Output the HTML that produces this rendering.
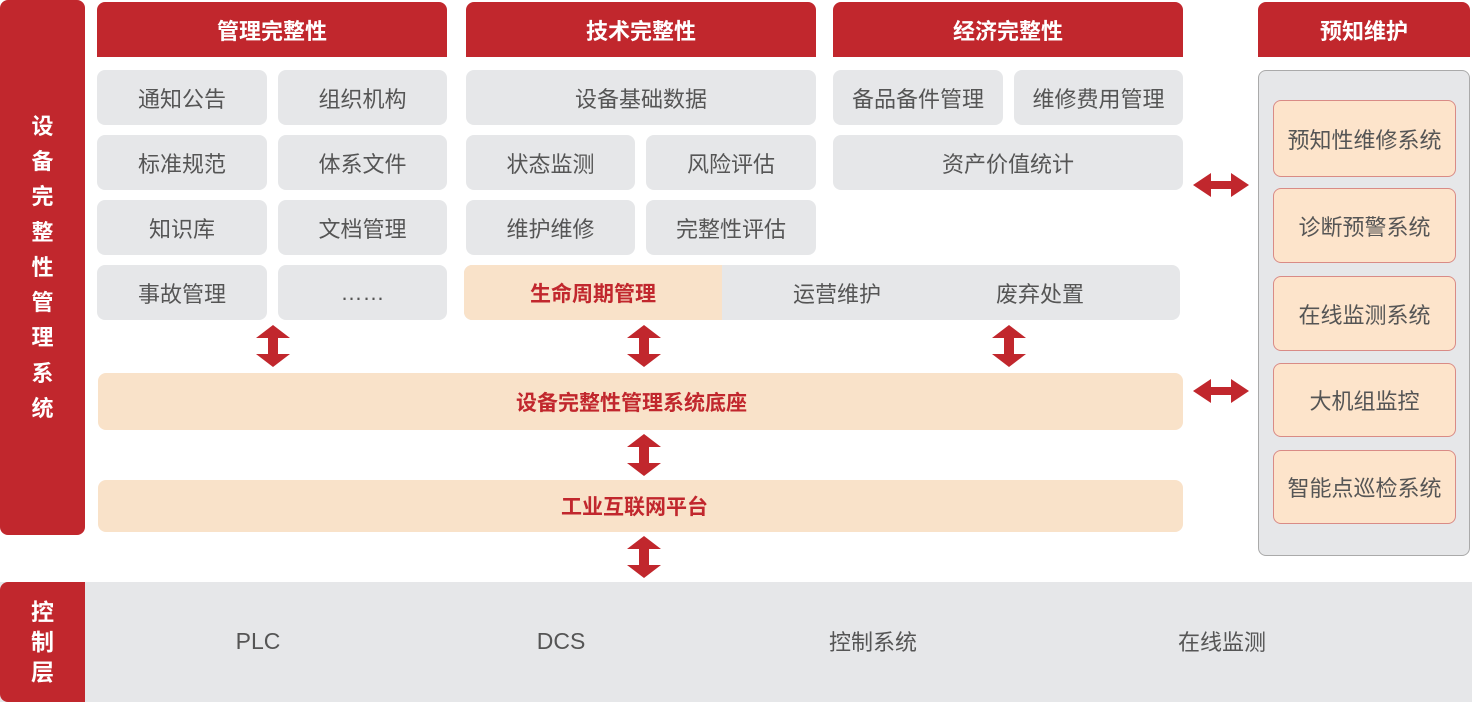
<!DOCTYPE html>
<html><head><meta charset="utf-8"><style>
*{margin:0;padding:0;box-sizing:border-box}
body{width:1472px;height:704px;background:#fff;position:relative;overflow:hidden;font-family:"Liberation Sans","Noto Sans CJK SC",sans-serif}
.a{position:absolute;display:flex;align-items:center;justify-content:center}
.h{background:#c1272d;color:#fff;font-size:22px;font-weight:bold;border-radius:8px 8px 0 0;top:2px;height:55px}
.g{background:#e6e7e9;color:#555;font-size:22px;border-radius:8px}
.p{background:#f9e2c9;color:#c1272d;font-size:21px;font-weight:bold;border-radius:8px}
.r{background:#fde4cb;border:1px solid #d98b86;color:#555;font-size:22px;border-radius:8px;left:1273px;width:183px}
</style></head><body>
<div class="a" style="left:0;top:0;width:85px;height:535px;background:#c1272d;border-radius:8px;color:#fff;font-size:22px;font-weight:bold;flex-direction:column;line-height:35.3px">设<br>备<br>完<br>整<br>性<br>管<br>理<br>系<br>统</div>

<div class="a h" style="left:97px;width:350px">管理完整性</div>
<div class="a h" style="left:466px;width:350px">技术完整性</div>
<div class="a h" style="left:833px;width:350px">经济完整性</div>
<div class="a h" style="left:1258px;width:212px">预知维护</div>

<div class="a g" style="left:97px;top:70px;width:170px;height:55px">通知公告</div>
<div class="a g" style="left:278px;top:70px;width:169px;height:55px">组织机构</div>
<div class="a g" style="left:97px;top:135px;width:170px;height:55px">标准规范</div>
<div class="a g" style="left:278px;top:135px;width:169px;height:55px">体系文件</div>
<div class="a g" style="left:97px;top:200px;width:170px;height:55px">知识库</div>
<div class="a g" style="left:278px;top:200px;width:169px;height:55px">文档管理</div>
<div class="a g" style="left:97px;top:265px;width:170px;height:55px">事故管理</div>
<div class="a g" style="left:278px;top:265px;width:169px;height:55px">……</div>

<div class="a g" style="left:466px;top:70px;width:350px;height:55px">设备基础数据</div>
<div class="a g" style="left:466px;top:135px;width:169px;height:55px">状态监测</div>
<div class="a g" style="left:646px;top:135px;width:170px;height:55px">风险评估</div>
<div class="a g" style="left:466px;top:200px;width:169px;height:55px">维护维修</div>
<div class="a g" style="left:646px;top:200px;width:170px;height:55px">完整性评估</div>
<div class="a g" style="left:464px;top:265px;width:716px;height:55px"></div>
<div class="a p" style="left:464px;top:265px;width:258px;height:55px;border-radius:8px 0 0 8px">生命周期管理</div>
<div class="a" style="left:722px;top:265px;width:230px;height:55px;color:#555;font-size:22px">运营维护</div>
<div class="a" style="left:930px;top:265px;width:220px;height:55px;color:#555;font-size:22px">废弃处置</div>

<div class="a g" style="left:833px;top:70px;width:170px;height:55px">备品备件管理</div>
<div class="a g" style="left:1014px;top:70px;width:169px;height:55px">维修费用管理</div>
<div class="a g" style="left:833px;top:135px;width:350px;height:55px">资产价值统计</div>

<div class="a p" style="left:98px;top:373px;width:1085px;height:57px;justify-content:flex-start;padding-left:418px">设备完整性管理系统底座</div>
<div class="a p" style="left:98px;top:480px;width:1085px;height:52px;justify-content:flex-start;padding-left:463px">工业互联网平台</div>

<div class="a" style="left:1258px;top:70px;width:212px;height:486px;background:#e6e7e9;border:1px solid #aaa;border-radius:8px"></div>
<div class="a r" style="top:100px;height:77px">预知性维修系统</div>
<div class="a r" style="top:188px;height:75px">诊断预警系统</div>
<div class="a r" style="top:276px;height:75px">在线监测系统</div>
<div class="a r" style="top:363px;height:74px">大机组监控</div>
<div class="a r" style="top:450px;height:74px">智能点巡检系统</div>

<div class="a" style="left:0;top:582px;width:1472px;height:120px;background:#e6e7e9"></div>
<div class="a" style="left:0;top:582px;width:85px;height:120px;background:#c1272d;border-radius:8px 0 0 8px;color:#fff;font-size:23px;font-weight:bold;flex-direction:column;line-height:30px">控<br>制<br>层</div>
<div class="a" style="left:208px;top:620px;width:100px;height:42px;color:#555;font-size:23px">PLC</div>
<div class="a" style="left:511px;top:620px;width:100px;height:42px;color:#555;font-size:23px">DCS</div>
<div class="a" style="left:803px;top:620px;width:140px;height:42px;color:#555;font-size:22px">控制系统</div>
<div class="a" style="left:1152px;top:620px;width:140px;height:42px;color:#555;font-size:22px">在线监测</div>

<svg width="1472" height="704" style="position:absolute;left:0;top:0">
<defs>
<g id="v"><polygon points="0,-21 17,-8 5,-8 5,8 17,8 0,21 -17,8 -5,8 -5,-8 -17,-8" fill="#c1272d"/></g>
<g id="hz"><polygon points="-28,0 -10,-12 -10,-4 10,-4 10,-12 28,0 10,12 10,4 -10,4 -10,12" fill="#c1272d"/></g>
</defs>
<use href="#v" x="273" y="346"/>
<use href="#v" x="644" y="346"/>
<use href="#v" x="1009" y="346"/>
<use href="#v" x="644" y="455"/>
<use href="#v" x="644" y="557"/>
<use href="#hz" x="1221" y="185"/>
<use href="#hz" x="1221" y="391"/>
</svg>
</body></html>
